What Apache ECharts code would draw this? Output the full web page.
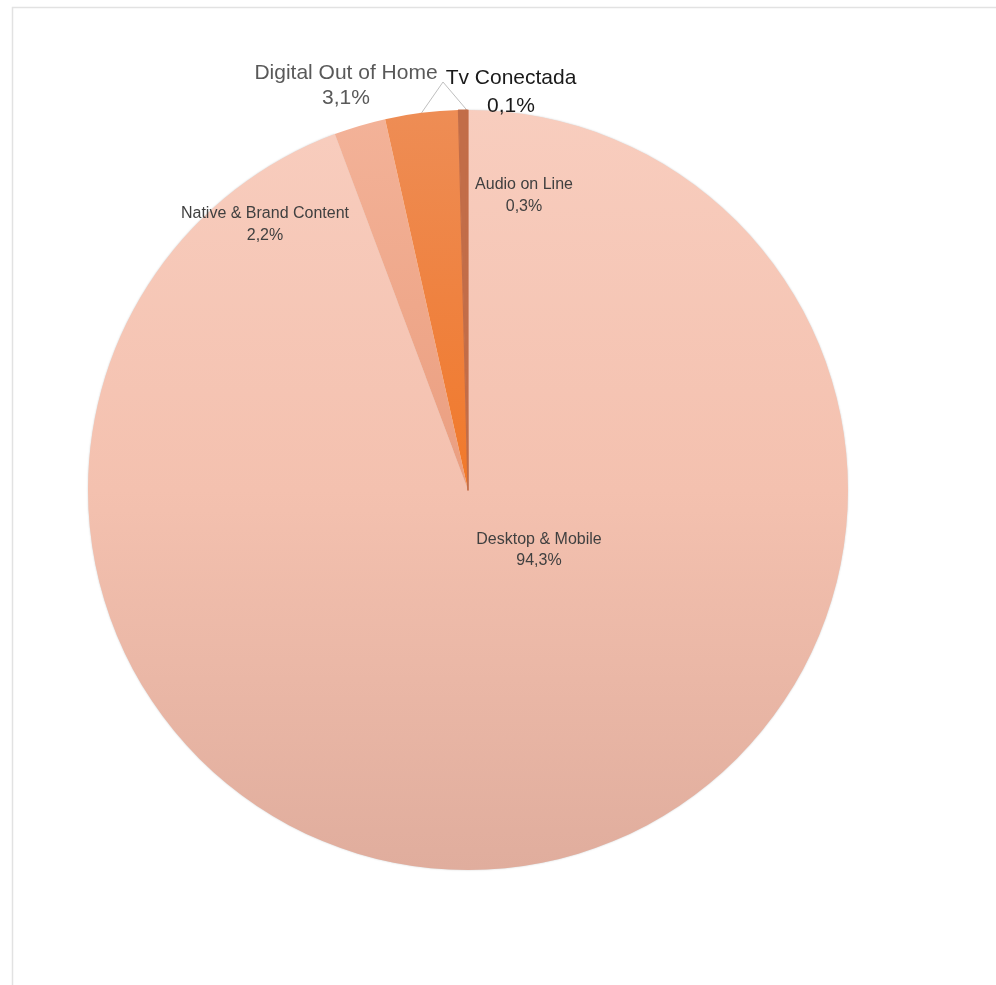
<!DOCTYPE html>
<html>
<head>
<meta charset="utf-8">
<script src="https://cdn.jsdelivr.net/npm/echarts@6/dist/echarts.min.js"></script>
<style>
  html, body { margin: 0; padding: 0; background: #ffffff; }
  #chart { width: 996px; height: 985px; }
</style>
</head>
<body>
<div id="chart"></div>
<script>
// Investment share by digital format (%)
const categories = ['Desktop & Mobile', 'Native & Brand Content', 'Digital Out of Home', 'Audio on Line', 'Tv Conectada'];
const shares = [94.3, 2.2, 3.1, 0.3, 0.1];

// Pie geometry
const CX = 468, CY = 490, R = 380;

// Label anchor points, relative to the pie centre
const labelOffsets = [[71, 60], [-203, -265], [-122, -404], [56, -294], [43, -398]];

// Slice fills (vertical gradients)
function vGrad(top, mid, bottom) {
  return new echarts.graphic.LinearGradient(0, 0, 0, 1, [
    { offset: 0, color: top },
    { offset: 0.5, color: mid },
    { offset: 1, color: bottom }
  ]);
}
const sliceFills = [
  vGrad('#F8CDBE', '#F4C1AF', '#E0AD9D'),
  vGrad('#F3B298', '#EFA88B', '#EA9E80'),
  vGrad('#EE8D55', '#EF8240', '#F1792A'),
  '#C26D48',
  '#C26D48'
];
// thin slices get a matching outline so they stay visible
const sliceBorders = [0, 0, 0, 1.2, 1.2];
const sliceShadow = [2, 0, 0, 0, 0];

const FONT = 'Liberation Sans, Arial, sans-serif';
const smallLabel = { fontSize: 16, color: '#404040', lineHeight: 22, fontFamily: FONT };
const labelStyles = [
  Object.assign({}, smallLabel, { lineHeight: 21 }),
  smallLabel,
  { fontSize: 21, color: '#595959', lineHeight: 25, fontFamily: FONT },
  smallLabel,
  { fontSize: 21, color: '#1a1a1a', lineHeight: 28, fontFamily: FONT }
];
const withLeader = [false, false, true, false, true];

const fmtPct = v => v.toFixed(1).replace('.', ',') + '%';

const data = categories.map((name, i) => ({
  name: name,
  value: shares[i],
  itemStyle: {
    color: sliceFills[i],
    borderWidth: sliceBorders[i],
    borderColor: '#C26D48',
    shadowBlur: sliceShadow[i],
    shadowColor: 'rgba(0,0,0,0.2)'
  },
  label: Object.assign({ show: true }, labelStyles[i]),
  labelLine: { show: withLeader[i] }
}));

const chart = echarts.init(document.getElementById('chart'), null, { renderer: 'canvas' });

// Leader lines meet at the corner between the two top labels
const leaderTip = [CX - 25, CY - 408];

chart.setOption({
  backgroundColor: '#ffffff',
  animation: false,
  graphic: [{
    type: 'rect',
    left: 10, top: 5,
    shape: { width: 1000, height: 1000 },
    style: { fill: 'none', stroke: '#e2e2e2', lineWidth: 1.5 },
    silent: true, z: -10
  }],
  series: [{
    type: 'pie',
    center: [CX, CY],
    radius: [0, R],
    startAngle: 90,
    clockwise: true,
    avoidLabelOverlap: false,
    minShowLabelAngle: 0,
    emphasis: { disabled: true },
    label: {
      position: 'outside',
      formatter: p => p.name + '\n' + fmtPct(p.value),
      align: 'center'
    },
    labelLine: {
      show: false,
      length: 10,
      length2: 10,
      lineStyle: { color: '#BFBFBF', width: 1 }
    },
    labelLayout: function (p) {
      const off = labelOffsets[p.dataIndex];
      const out = {
        x: CX + off[0],
        y: CY + off[1],
        align: 'center',
        verticalAlign: 'middle'
      };
      if (withLeader[p.dataIndex] && p.labelLinePoints) {
        const start = p.labelLinePoints[0];
        out.labelLinePoints = [start, leaderTip, leaderTip];
      }
      return out;
    },
    data: data
  }]
});
</script>
</body>
</html>
